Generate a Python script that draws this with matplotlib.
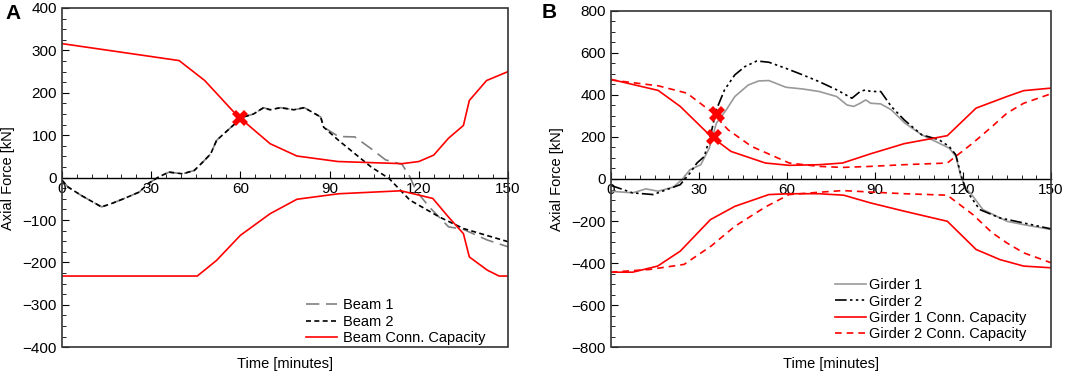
import matplotlib.pyplot as plt
from matplotlib.patches import Rectangle
from matplotlib.ticker import MultipleLocator

plt.rcParams['font.family'] = ['Liberation Sans', 'DejaVu Sans']
plt.rcParams['font.size'] = 10

# ---- Panel A data ----
beam_cap_up_t = [0, 39.4, 48, 58.8, 70, 79, 92.8, 114.4, 120, 125, 130, 135, 137, 142.8, 150]
beam_cap_up = [316, 276, 229, 147, 80, 51, 38, 33, 38, 53, 93, 123, 182, 229, 250]
beam_cap_lo_t = [0, 45.5, 52, 60, 70, 79, 93, 114, 124.7, 130, 135, 137, 143, 147, 150]
beam_cap_lo = [-232, -232, -195, -136, -85, -51, -38, -31, -49, -93, -132, -187, -218, -232, -232]

beam_common_t = [0, 2, 6.5, 13.3, 16.7, 21, 26, 29, 32.6, 36, 40.6, 44.5, 47.4, 50, 52,
                 55, 58.8, 61, 64.4, 67.8, 70, 73.5, 78, 81.5, 87, 88]
beam_common = [-6, -22, -42, -69, -61, -49, -34, -14, 2, 13, 9, 17, 37, 56, 88,
               107, 131, 143, 150, 165, 160, 165, 160, 165, 143, 119]
beam1_tail_t = [93, 98.5, 104, 108.8, 114.4, 117, 119, 123.5, 130, 135, 143, 150]
beam1_tail = [97, 96, 68, 42, 31, 2, -30, -69, -116, -122, -147, -163]
beam2_tail_t = [93, 104, 110, 117, 127, 135, 150]
beam2_tail = [88, 25, -2, -53, -93, -120, -151]
beam1_t = beam_common_t + beam1_tail_t
beam1 = beam_common + beam1_tail
beam2_t = beam_common_t + beam2_tail_t
beam2 = beam_common + beam2_tail
beam_fail_t = [60]
beam_fail = [140]

# ---- Panel B data ----
g1_cap_up_t = [0, 16.2, 23.7, 34.2, 41, 52.7, 60.8, 71, 79, 88.6, 100, 114.7, 124.5, 135, 140.7, 150]
g1_cap_up = [474, 421, 345, 202, 131, 76, 65, 68, 76, 120, 168, 206, 337, 392, 420, 432]
g1_cap_lo_t = [0, 7.5, 16, 23.7, 34, 42.3, 53.9, 61, 71, 79.4, 88.6, 100, 114.7, 124.5, 132.6, 140.7, 150]
g1_cap_lo = [-443, -443, -414, -343, -193, -130, -74, -70, -70, -77, -114, -153, -201, -335, -383, -414, -422]
g2_cap_up_t = [0, 7.5, 16.2, 26, 34.2, 40, 48, 60.8, 71, 79, 88.6, 100, 114.7, 123.4, 130, 135, 140.7, 150]
g2_cap_up = [471, 458, 443, 408, 321, 234, 155, 76, 60, 55, 60, 68, 76, 171, 250, 313, 360, 405]
g2_cap_lo_t = [0, 13.3, 25, 34.2, 42.3, 52.7, 60.8, 71, 79, 88.6, 100, 114.7, 123.4, 130, 135, 140.7, 150]
g2_cap_lo = [-443, -430, -406, -319, -225, -133, -74, -63, -55, -62, -70, -77, -169, -256, -304, -351, -398]

g1_t = [0, 7.5, 12, 16.2, 21.4, 24.3, 27, 30.7, 33.6, 36, 39.4, 42.3, 46.9, 50.4, 53.9, 59.7,
        65.4, 71, 77, 80.5, 82.8, 85, 86.9, 88.6, 92, 95.6, 100.2, 106, 111.8, 115.3, 117.6,
        119.3, 121, 123.4, 126.8, 135, 140.7, 150]
g1 = [-58, -66, -47, -58, -38, -3, 44, 68, 147, 265, 329, 392, 447, 466, 468, 436,
      428, 416, 392, 352, 345, 360, 376, 360, 357, 329, 266, 210, 171, 147, 108,
      13, -43, -82, -145, -201, -217, -240]
g2_t = [0, 7.5, 14.5, 19, 23.7, 27, 29.4, 31.9, 34.2, 36, 38.8, 42.3, 45.7, 49.8, 53.9, 59.7,
        65.4, 71, 77, 82.2, 85, 86.9, 88.6, 92, 95.6, 100, 106, 111.8, 115.3, 117.6, 119.3,
        121, 125.7, 132.6, 140.7, 150]
g2 = [-30, -66, -74, -51, -27, 28, 76, 107, 218, 329, 424, 495, 534, 561, 555, 526,
      495, 463, 424, 384, 416, 424, 416, 416, 345, 281, 210, 187, 155, 115, 21,
      -51, -145, -185, -209, -237]
g_fail_t = [35.3, 36.3]
g_fail = [202, 308]

xticks = [0, 30, 60, 90, 120, 150]

RED = '#ff0000'


def style_axes(ax, ymin, ymax, ystep, yminor):
    ax.set_xlim(0, 150)
    ax.set_ylim(ymin, ymax)
    ax.set_xticks(xticks)
    ax.xaxis.set_minor_locator(MultipleLocator(5))
    ax.yaxis.set_major_locator(MultipleLocator(ystep))
    ax.yaxis.set_minor_locator(MultipleLocator(yminor))
    for s in ['top', 'right', 'left']:
        ax.spines[s].set_visible(False)
    ax.spines['bottom'].set_position(('data', 0))
    ax.spines['bottom'].set_linewidth(1.0)
    # full box around the plot, the x axis itself sits on zero
    ax.add_patch(Rectangle((0, 0), 1, 1, transform=ax.transAxes, fill=False,
                           edgecolor='#333333', linewidth=1.2, clip_on=False, zorder=5))
    ax.tick_params(which='both', direction='in', labelsize=11, top=False, right=False)
    ax.tick_params(which='major', length=5)
    ax.tick_params(which='minor', length=3)
    ax.tick_params(axis='x', pad=3)
    ax.set_xlabel('Time [minutes]', fontsize=10.5)
    ax.set_ylabel('Axial Force [kN]', fontsize=10.5)
    ax.xaxis.set_label_coords(0.5, -0.029)


fig = plt.figure(figsize=(10.65, 3.77), dpi=100)
axA = fig.add_axes([0.0582, 0.0788, 0.4188, 0.9])
axB = fig.add_axes([0.5734, 0.0788, 0.4134, 0.8928])

# Panel A
axA.plot(beam1_t, beam1, color='#808080', lw=1.2, dashes=(8, 4), label='Beam 1')
axA.plot(beam2_t, beam2, color='black', lw=1.2, dashes=(3, 2), label='Beam 2')
axA.plot(beam_cap_up_t, beam_cap_up, color=RED, lw=1.2, label='Beam Conn. Capacity')
axA.plot(beam_cap_lo_t, beam_cap_lo, color=RED, lw=1.2)
axA.plot(beam_fail_t, beam_fail, 'X', color=RED, ms=11, mew=0)
style_axes(axA, -400, 400, 100, 25)
axA.yaxis.set_label_coords(-0.105, 0.5)
axA.legend(loc='upper left', bbox_to_anchor=(0.534, 0.161), frameon=False, fontsize=10.5,
           handlelength=2.1, handletextpad=0.45, labelspacing=0.15, borderaxespad=0)

# Panel B
axB.plot(g1_t, g1, color='#999999', lw=1.2, label='Girder 1')
axB.plot(g2_t, g2, color='black', lw=1.2, dashes=(7, 2, 1.5, 2, 1.5, 2, 1.5, 2), label='Girder 2')
axB.plot(g1_cap_up_t, g1_cap_up, color=RED, lw=1.2, label='Girder 1 Conn. Capacity')
axB.plot(g1_cap_lo_t, g1_cap_lo, color=RED, lw=1.2)
axB.plot(g2_cap_up_t, g2_cap_up, color=RED, lw=1.2, dashes=(4, 3), label='Girder 2 Conn. Capacity')
axB.plot(g2_cap_lo_t, g2_cap_lo, color=RED, lw=1.2, dashes=(4, 3))
axB.plot(g_fail_t, g_fail, 'X', color=RED, ms=11, mew=0)
style_axes(axB, -800, 800, 200, 50)
axB.yaxis.set_label_coords(-0.106, 0.5)
axB.legend(loc='upper left', bbox_to_anchor=(0.496, 0.222), frameon=False, fontsize=10.5,
           handlelength=2.1, handletextpad=0.25, labelspacing=0.15, borderaxespad=0)

fig.text(0.005, 0.965, 'A', fontsize=15, fontweight='bold', va='center')
fig.text(0.509, 0.968, 'B', fontsize=15, fontweight='bold', va='center')

fig.savefig('out.png', dpi=100)
